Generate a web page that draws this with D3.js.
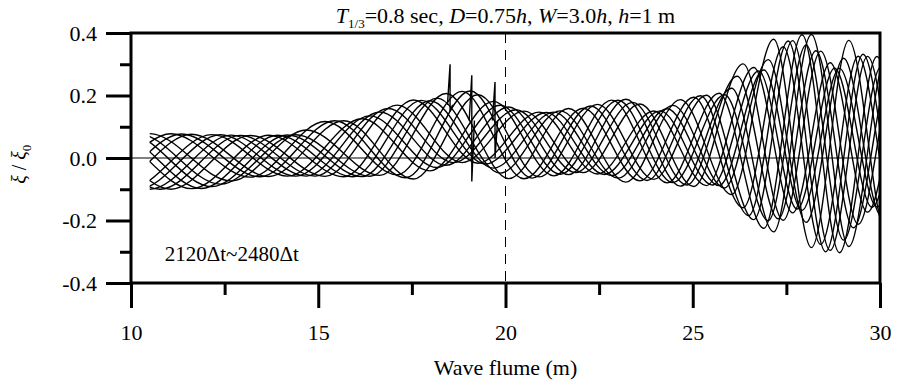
<!DOCTYPE html>
<html>
<head>
<meta charset="utf-8">
<script src="https://cdn.jsdelivr.net/npm/d3@7"></script>
<style>
  body { margin: 0; background: #fff; }
  svg text { font-family: "Liberation Serif", "Times New Roman", "DejaVu Serif", serif !important; fill: #000; }
</style>
</head>
<body>
<div id="chart"></div>
<script>
// stations along the flume (m) where the wave envelope was read
var stationX   = [10.5, 11, 12, 12.5, 13, 14, 14.5, 15, 15.5, 16, 16.5, 17, 17.5, 18, 18.5, 19, 19.5, 20, 20.5, 21, 22, 23, 23.5, 24, 25, 26, 26.3, 26.6, 27, 27.5, 28, 28.5, 29, 29.5, 30];
// highest crest / lowest trough at each station
var crestY     = [0.078, 0.078, 0.075, 0.074, 0.072, 0.073, 0.075, 0.115, 0.12, 0.118, 0.14, 0.165, 0.186, 0.19, 0.21, 0.22, 0.19, 0.165, 0.155, 0.155, 0.16, 0.19, 0.185, 0.16, 0.2, 0.21, 0.32, 0.36, 0.375, 0.39, 0.395, 0.395, 0.39, 0.35, 0.32];
var troughY    = [-0.1, -0.1, -0.097, -0.08, -0.062, -0.058, -0.058, -0.058, -0.06, -0.06, -0.058, -0.05, -0.07, -0.04, -0.02, -0.02, -0.03, -0.065, -0.07, -0.06, -0.05, -0.075, -0.08, -0.07, -0.1, -0.11, -0.17, -0.21, -0.23, -0.25, -0.27, -0.32, -0.3, -0.25, -0.24];
// local wave length (m)
var waveLength = [4.6, 4.5, 4.3, 4.1, 4.0, 4.0, 4.0, 4.0, 4.0, 3.9, 3.8, 3.6, 3.5, 3.5, 3.4, 3.4, 3.3, 3.3, 3.2, 3.2, 3.1, 3.0, 3.0, 2.9, 2.8, 2.6, 2.4, 2.2, 2.1, 2.0, 2.0, 2.0, 2.0, 2.0, 2.0];
// how much the individual snapshots differ in height (0 = all reach the envelope)
var heightSpread = [0, 0, 0, 0, 0, 0, 0, 0, 0, 0, 0, 0, 0, 0.2, 0.3, 0.3, 0.3, 0.3, 0.3, 0.3, 0.3, 0.4, 0.4, 0.4, 0.4, 0.4, 0.6, 1, 1, 1, 1, 1, 1, 1, 1];

// snapshots, every 30 time steps
var timeSteps    = [2120, 2150, 2180, 2210, 2240, 2270, 2300, 2330, 2360, 2390, 2420, 2450, 2480];
var phaseOffset  = [0, 0.375, 0.75, 0.125, 0.5, 0.875, 0.25, 0.625, 0.07, 0.44, 0.81, 0.19, 0.57];
var heightFactor = [1, 0.85, 0.95, 0.7, 1, 0.9, 0.75, 1, 0.8, 0.85, 0.95, 0.7, 0.9];

// spikes near the structure
var spikeX      = [18.52, 19.1, 19.72];
var spikeTop    = [0.30, 0.265, 0.243];
var spikeBottom = [0.15, -0.075, 0.0];
var spikeBase   = [0.17, 0.12, 0.12];

var xTicks = [10, 15, 20, 25, 30];
var xMinor = [12.5, 17.5, 22.5, 27.5];
var yTicks = [-0.4, -0.2, 0.0, 0.2, 0.4];
var yMinor = [-0.3, -0.1, 0.1, 0.3];

var serif = '"Liberation Serif", "Times New Roman", "DejaVu Serif", serif';
var width = 897, height = 384;
var margin = { top: 33, right: 17, bottom: 101, left: 131 };

var svg = d3.select('#chart').append('svg')
  .attr('width', width)
  .attr('height', height);

var x = d3.scaleLinear().domain([10, 30]).range([margin.left, width - margin.right]);
var y = d3.scaleLinear().domain([-0.4, 0.4]).range([height - margin.bottom, margin.top]);

// cumulative number of waves along the flume
var steps = d3.pairs(stationX.map(function (s, i) { return [s, waveLength[i]]; }))
  .map(function (p) { return (p[1][0] - p[0][0]) * 2 / (p[0][1] + p[1][1]); });
var waveCount = [0].concat(Array.from(d3.cumsum(steps)));

var xAtCount = d3.scaleLinear().domain(waveCount).range(stationX);
var crestAt  = d3.scaleLinear().domain(stationX).range(crestY).clamp(true);
var troughAt = d3.scaleLinear().domain(stationX).range(troughY).clamp(true);
var spreadAt = d3.scaleLinear().domain(stationX).range(heightSpread).clamp(true);

// crest and trough points of one snapshot
function snapshotPoints(k) {
  var pts = [];
  var lo = Math.floor(2 * (waveCount[0] + phaseOffset[k])) - 2;
  var hi = Math.ceil(2 * (waveCount[waveCount.length - 1] + phaseOffset[k])) + 2;
  for (var m = lo; m <= hi; m++) {
    var xs = xAtCount(m / 2 - phaseOffset[k]);
    var c = crestAt(xs), t = troughAt(xs), mid = (c + t) / 2;
    var f = 1 - spreadAt(xs) * (1 - heightFactor[k]);
    var ys = (m % 2 === 0) ? mid + (c - mid) * f : mid + (t - mid) * f;
    pts.push([xs, ys]);
  }
  return pts;
}

svg.append('clipPath').attr('id', 'flume')
  .append('rect')
  .attr('x', x(stationX[0]))
  .attr('y', 0)
  .attr('width', x(stationX[stationX.length - 1]) - x(stationX[0]))
  .attr('height', height);

var line = d3.line()
  .x(function (d) { return x(d[0]); })
  .y(function (d) { return y(d[1]); })
  .curve(d3.curveMonotoneX);

var g = svg.append('g');

// zero line
g.append('line')
  .attr('x1', x(10)).attr('x2', x(30))
  .attr('y1', y(0)).attr('y2', y(0))
  .attr('stroke', '#000').attr('stroke-width', 1);

// dashed line at x = 20 m
g.append('line')
  .attr('x1', x(20)).attr('x2', x(20))
  .attr('y1', y(0.4)).attr('y2', y(-0.4))
  .attr('stroke', '#000').attr('stroke-width', 1)
  .attr('stroke-dasharray', '10,7');

g.append('g').attr('clip-path', 'url(#flume)')
  .selectAll('path')
  .data(timeSteps)
  .enter()
  .append('path')
  .attr('d', function (d, i) { return line(snapshotPoints(i)); })
  .attr('fill', 'none')
  .attr('stroke', '#000')
  .attr('stroke-width', 1.4);

var spikeLine = d3.line()
  .x(function (d) { return x(d[0]); })
  .y(function (d) { return y(d[1]); });

g.selectAll('.spike')
  .data(spikeX)
  .enter()
  .append('path')
  .attr('class', 'spike')
  .attr('d', function (d, i) {
    return spikeLine([
      [d - 0.07, spikeBase[i]], [d, spikeTop[i]], [d, spikeBottom[i]], [d + 0.07, spikeBase[i]]
    ]);
  })
  .attr('fill', 'none')
  .attr('stroke', '#000')
  .attr('stroke-width', 1.4);

// frame
svg.append('rect')
  .attr('x', x(10)).attr('y', y(0.4))
  .attr('width', x(30) - x(10)).attr('height', y(-0.4) - y(0.4))
  .attr('fill', 'none').attr('stroke', '#000').attr('stroke-width', 3);

// axes
var yFmt = function (d) { return d3.format('.1f')(d).replace('−', '-'); };
var xAxis = svg.append('g')
  .attr('transform', 'translate(0,' + y(-0.4) + ')')
  .call(d3.axisBottom(x).tickValues(xTicks).tickSize(25).tickPadding(16).tickFormat(d3.format('d')));
var xAxisMinor = svg.append('g')
  .attr('transform', 'translate(0,' + y(-0.4) + ')')
  .call(d3.axisBottom(x).tickValues(xMinor).tickSize(12).tickFormat(''));
var yAxis = svg.append('g')
  .attr('transform', 'translate(' + x(10) + ',0)')
  .call(d3.axisLeft(y).tickValues(yTicks).tickSize(25).tickPadding(9).tickFormat(yFmt));
var yAxisMinor = svg.append('g')
  .attr('transform', 'translate(' + x(10) + ',0)')
  .call(d3.axisLeft(y).tickValues(yMinor).tickSize(11).tickFormat(''));

[xAxis, xAxisMinor, yAxis, yAxisMinor].forEach(function (a) {
  a.attr('font-family', serif);
  a.select('.domain').remove();
  a.selectAll('line').attr('stroke', '#000').attr('stroke-width', 3);
  a.selectAll('text').attr('font-size', 22).style('font-family', serif);
});

// title
var title = svg.append('text')
  .attr('x', x(20)).attr('y', 23)
  .attr('text-anchor', 'middle')
  .attr('font-size', 22)
  .style('font-family', serif);
title.append('tspan').attr('font-style', 'italic').text('T');
title.append('tspan').attr('font-size', 13).attr('dy', 5).text('1/3');
title.append('tspan').attr('dy', -5).text('=0.8 sec, ');
title.append('tspan').attr('font-style', 'italic').text('D');
title.append('tspan').text('=0.75');
title.append('tspan').attr('font-style', 'italic').text('h');
title.append('tspan').text(', ');
title.append('tspan').attr('font-style', 'italic').text('W');
title.append('tspan').text('=3.0');
title.append('tspan').attr('font-style', 'italic').text('h');
title.append('tspan').text(', ');
title.append('tspan').attr('font-style', 'italic').text('h');
title.append('tspan').text('=1 m');

// axis titles
svg.append('text')
  .attr('x', x(20)).attr('y', 375)
  .attr('text-anchor', 'middle')
  .attr('font-size', 22)
  .style('font-family', serif)
  .text('Wave flume (m)');

var yl = svg.append('text')
  .attr('transform', 'translate(26,' + y(-0.02) + ') rotate(-90)')
  .attr('text-anchor', 'middle')
  .attr('font-size', 20)
  .style('font-family', serif);
yl.append('tspan').attr('font-style', 'italic').text('ξ');
yl.append('tspan').text(' / ');
yl.append('tspan').attr('font-style', 'italic').text('ξ');
yl.append('tspan').attr('font-size', 13).attr('dy', 5).text('0');

// time window note
svg.append('text')
  .attr('x', x(10.9)).attr('y', y(-0.33))
  .attr('font-size', 21)
  .style('font-family', serif)
  .text('2120Δt~2480Δt');
</script>
</body>
</html>
